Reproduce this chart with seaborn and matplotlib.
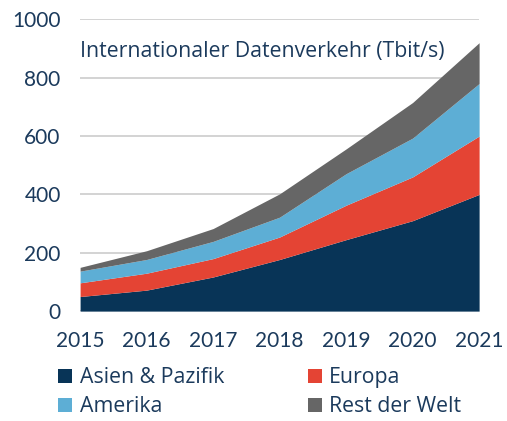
import matplotlib
matplotlib.use("Agg")
import matplotlib.pyplot as plt
import seaborn as sns
import numpy as np
from matplotlib.patches import Patch

years = [2015, 2016, 2017, 2018, 2019, 2020, 2021]
asien_pazifik = [50, 72, 117, 177, 245, 310, 400]
europa = [47, 58, 63, 77, 118, 150, 200]
amerika = [40, 47, 59, 68, 108, 133, 180]
rest_der_welt = [13, 30, 44, 80, 85, 122, 140]
series_names = ["Asien & Pazifik", "Europa", "Amerika", "Rest der Welt"]
colors = ["#083457", "#E44434", "#5DAED5", "#666666"]
y_ticks = [0, 200, 400, 600, 800, 1000]
title = "Internationaler Datenverkehr (Tbit/s)"

sns.set_theme(style="white")
plt.rcParams["font.family"] = ["Lato", "DejaVu Sans"]
text_color = "#1B3A5C"

fig = plt.figure(figsize=(5.07, 4.21), dpi=100)
ax = fig.add_axes([0.158, 0.261, 0.787, 0.693])

ax.stackplot(years, asien_pazifik, europa, amerika, rest_der_welt,
             colors=colors, labels=series_names, linewidth=0, zorder=3)

ax.set_xlim(years[0], years[-1])
ax.set_ylim(0, 1000)
ax.set_yticks(y_ticks)
ax.set_xticks(years)
ax.set_xticklabels([str(y) for y in years])
ax.yaxis.grid(True, color="#CCCCCC", linewidth=1.2, linestyle="-", zorder=0)
ax.xaxis.grid(False)
sns.despine(ax=ax, left=True, bottom=True, top=True, right=True)
ax.tick_params(axis="both", length=0, labelsize=15, colors=text_color)
ax.tick_params(axis="y", pad=14)
ax.tick_params(axis="x", pad=14)

ax.text(0.0, 0.89, title, transform=ax.transAxes, fontsize=15.3,
        family=["Open Sans", "DejaVu Sans"],
        color=text_color, ha="left", va="center", zorder=5)

handles = [Patch(facecolor=c, edgecolor="none") for c in colors]
order = [0, 2, 1, 3]
fig.legend([handles[i] for i in order], [series_names[i] for i in order],
           ncol=2, loc="upper left", bbox_to_anchor=(0.115, 0.128),
           frameon=False, labelcolor=text_color,
           prop={"family": ["Open Sans", "DejaVu Sans"], "size": 15.3},
           handlelength=0.65, handleheight=0.65, handletextpad=0.35,
           columnspacing=3.95, labelspacing=0.38, borderaxespad=0, borderpad=0)

fig.savefig("out.png", dpi=100)
